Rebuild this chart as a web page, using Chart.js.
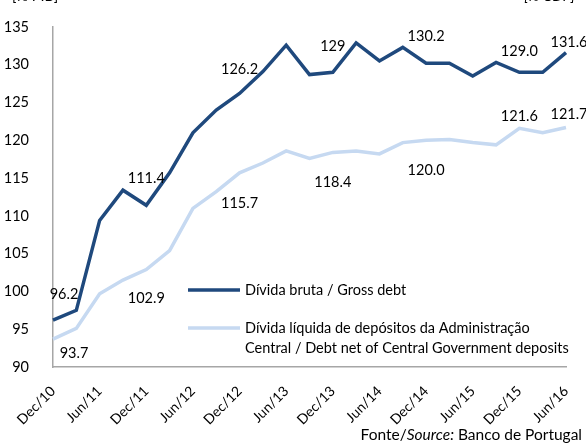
<!DOCTYPE html>
<html lang="pt">
<head>
    <meta charset="UTF-8">
    <title>Dívida pública</title>
    <script src="https://cdn.jsdelivr.net/npm/chart.js"></script>
    <style>
        html, body { margin: 0; padding: 0; background: #fff; }
        #wrap { width: 586px; height: 445px; position: relative; }
    </style>
</head>
<body>
    <div id="wrap"><canvas id="debtChart" width="586" height="445"></canvas></div>

    <script>
        // trimestres, Dez/10 a Jun/16
        const quarters = ['Dec/10', 'Mar/11', 'Jun/11', 'Sep/11', 'Dec/11', 'Mar/12', 'Jun/12', 'Sep/12',
            'Dec/12', 'Mar/13', 'Jun/13', 'Sep/13', 'Dec/13', 'Mar/14', 'Jun/14', 'Sep/14',
            'Dec/14', 'Mar/15', 'Jun/15', 'Sep/15', 'Dec/15', 'Mar/16', 'Jun/16'];

        // dívida bruta (% PIB)
        const grossDebt = [96.2, 97.5, 109.4, 113.4, 111.4, 115.7, 121.0, 124.0,
            126.2, 129.1, 132.6, 128.7, 129.0, 132.9, 130.5, 132.3,
            130.2, 130.2, 128.5, 130.3, 129.0, 129.0, 131.6];

        // dívida líquida de depósitos da Administração Central (% PIB)
        const netDebt = [93.7, 95.1, 99.7, 101.5, 102.9, 105.4, 111.0, 113.2,
            115.7, 117.0, 118.6, 117.6, 118.4, 118.6, 118.2, 119.7,
            120.0, 120.1, 119.7, 119.4, 121.6, 121.0, 121.7];

        const yTicks = [90, 95, 100, 105, 110, 115, 120, 125, 130, 135];

        // pontos com etiqueta
        const labelledPoints = [0, 4, 8, 12, 16, 20, 22];
        const grossLabels = ['96.2', '111.4', '126.2', '129', '130.2', '129.0', '131.6'];
        const netLabels = ['93.7', '102.9', '115.7', '118.4', '120.0', '121.6', '121.7'];

        const FONT = 'Lato, "Open Sans", sans-serif';
        const darkBlue = '#1f497d';
        const lightBlue = '#c6d9f1';

        // deslocamento das etiquetas [dx, dy]
        const grossOffsets = [[11, -26], [0, -27], [0, -24], [0, -26], [0, -27], [0, -21], [3, -10]];
        const netOffsets = [[21, 14], [0, 29], [0, 31], [0, 30], [0, 30], [0, -12], [3, -13]];

        const extras = {
            id: 'extras',
            afterDatasetsDraw(chart) {
                const ctx = chart.ctx;
                ctx.save();
                ctx.fillStyle = '#000';
                ctx.font = '14.5px ' + FONT;
                ctx.textAlign = 'center';
                ctx.textBaseline = 'middle';
                [[0, grossLabels, grossOffsets], [1, netLabels, netOffsets]].forEach(([ds, txt, off]) => {
                    const meta = chart.getDatasetMeta(ds);
                    labelledPoints.forEach((idx, k) => {
                        const p = meta.data[idx];
                        ctx.fillText(txt[k], p.x + off[k][0], p.y + off[k][1]);
                    });
                });

                // legenda
                ctx.lineWidth = 3.5;
                ctx.strokeStyle = darkBlue;
                ctx.beginPath(); ctx.moveTo(188, 290); ctx.lineTo(240, 290); ctx.stroke();
                ctx.strokeStyle = lightBlue;
                ctx.beginPath(); ctx.moveTo(188, 328); ctx.lineTo(240, 328); ctx.stroke();
                ctx.textAlign = 'left';
                ctx.fillText('Dívida bruta / Gross debt', 245, 290);
                ctx.fillText('Dívida líquida de depósitos da Administração', 245, 328);
                ctx.fillText('Central / Debt net of Central Government deposits', 245, 348);

                // unidades
                ctx.textBaseline = 'alphabetic';
                ctx.fillText('[% PIB]', 12, 1);
                ctx.textAlign = 'right';
                ctx.font = 'italic 14.5px ' + FONT;
                ctx.fillText('[% GDP]', 575, 1);

                // fonte
                const part3 = ' Banco de Portugal';
                ctx.font = '15.5px ' + FONT;
                let x = 582;
                ctx.fillText(part3, x, 440);
                x -= ctx.measureText(part3).width;
                ctx.font = 'italic 15.5px ' + FONT;
                ctx.fillText('Source:', x, 440);
                x -= ctx.measureText('Source:').width;
                ctx.font = '15.5px ' + FONT;
                ctx.fillText('Fonte/', x, 440);
                ctx.restore();
            }
        };

        new Chart(document.getElementById('debtChart'), {
            type: 'line',
            data: {
                labels: quarters,
                datasets: [{
                    label: 'Dívida bruta / Gross debt',
                    data: grossDebt,
                    borderColor: darkBlue,
                    borderWidth: 3.5,
                    pointRadius: 0,
                    tension: 0
                }, {
                    label: 'Dívida líquida de depósitos da Administração Central / Debt net of Central Government deposits',
                    data: netDebt,
                    borderColor: lightBlue,
                    borderWidth: 3.5,
                    pointRadius: 0,
                    tension: 0
                }]
            },
            options: {
                responsive: false,
                animation: false,
                layout: { padding: { top: 27, right: 20, left: 0, bottom: 0 } },
                plugins: {
                    legend: { display: false },
                    tooltip: { enabled: false }
                },
                scales: {
                    x: {
                        offset: false,
                        grid: { display: false },
                        border: { display: true, color: '#a6a6a6', width: 1.5 },
                        ticks: {
                            autoSkip: false,
                            maxRotation: 45,
                            minRotation: 45,
                            padding: 8,
                            color: '#000',
                            font: { family: FONT, size: 14 },
                            callback: (v, i) => (i % 2 === 0 ? quarters[i] : null)
                        },
                        afterFit: s => { s.height = 78; }
                    },
                    y: {
                        min: 90,
                        max: 135,
                        grid: { display: false },
                        border: { display: true, color: '#a6a6a6', width: 1.5 },
                        afterBuildTicks: s => { s.ticks = yTicks.map(v => ({ value: v })); },
                        ticks: {
                            padding: 16,
                            color: '#000',
                            font: { family: FONT, size: 14.5 }
                        },
                        afterFit: s => { s.width = 53; }
                    }
                }
            },
            plugins: [extras]
        });
    </script>
</body>
</html>
